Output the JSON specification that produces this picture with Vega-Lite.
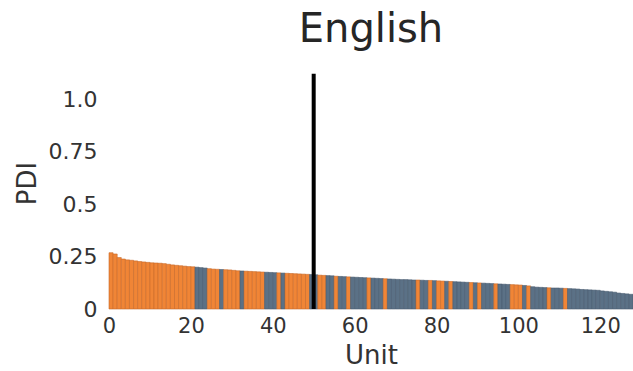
{
  "$schema": "https://vega.github.io/schema/vega-lite/v6.json",
  "autosize": {"type": "none"},
  "padding": {"left": 109, "top": 57, "right": 0, "bottom": 62},
  "width": 524,
  "height": 252,
  "background": "white",
  "title": {"text": "English", "fontSize": 40, "font": "DejaVu Sans", "fontWeight": "normal", "color": "#262626", "anchor": "middle", "offset": 7},
  "config": {"view": {"stroke": null}, "font": "DejaVu Sans"},
  "datasets": {
    "units": [
      {"unit":0,"pdi":0.268,"group":"O"},{"unit":1,"pdi":0.262,"group":"O"},{"unit":2,"pdi":0.245,"group":"O"},{"unit":3,"pdi":0.238,"group":"O"},
      {"unit":4,"pdi":0.234,"group":"O"},{"unit":5,"pdi":0.232,"group":"O"},{"unit":6,"pdi":0.229,"group":"O"},{"unit":7,"pdi":0.226,"group":"O"},
      {"unit":8,"pdi":0.224,"group":"O"},{"unit":9,"pdi":0.222,"group":"O"},{"unit":10,"pdi":0.220,"group":"O"},{"unit":11,"pdi":0.219,"group":"O"},
      {"unit":12,"pdi":0.218,"group":"O"},{"unit":13,"pdi":0.216,"group":"O"},{"unit":14,"pdi":0.213,"group":"O"},{"unit":15,"pdi":0.210,"group":"O"},
      {"unit":16,"pdi":0.208,"group":"O"},{"unit":17,"pdi":0.206,"group":"O"},{"unit":18,"pdi":0.204,"group":"O"},{"unit":19,"pdi":0.202,"group":"O"},
      {"unit":20,"pdi":0.201,"group":"O"},{"unit":21,"pdi":0.199,"group":"B"},{"unit":22,"pdi":0.197,"group":"B"},{"unit":23,"pdi":0.195,"group":"B"},
      {"unit":24,"pdi":0.192,"group":"O"},{"unit":25,"pdi":0.190,"group":"O"},{"unit":26,"pdi":0.189,"group":"O"},{"unit":27,"pdi":0.188,"group":"B"},
      {"unit":28,"pdi":0.187,"group":"O"},{"unit":29,"pdi":0.186,"group":"O"},{"unit":30,"pdi":0.184,"group":"O"},{"unit":31,"pdi":0.182,"group":"O"},
      {"unit":32,"pdi":0.181,"group":"B"},{"unit":33,"pdi":0.180,"group":"O"},{"unit":34,"pdi":0.179,"group":"O"},{"unit":35,"pdi":0.178,"group":"O"},
      {"unit":36,"pdi":0.177,"group":"O"},{"unit":37,"pdi":0.176,"group":"O"},{"unit":38,"pdi":0.175,"group":"B"},{"unit":39,"pdi":0.174,"group":"B"},
      {"unit":40,"pdi":0.173,"group":"B"},{"unit":41,"pdi":0.172,"group":"O"},{"unit":42,"pdi":0.171,"group":"B"},{"unit":43,"pdi":0.170,"group":"O"},
      {"unit":44,"pdi":0.169,"group":"O"},{"unit":45,"pdi":0.168,"group":"O"},{"unit":46,"pdi":0.167,"group":"O"},{"unit":47,"pdi":0.166,"group":"O"},
      {"unit":48,"pdi":0.165,"group":"O"},{"unit":49,"pdi":0.164,"group":"B"},{"unit":50,"pdi":0.163,"group":"B"},{"unit":51,"pdi":0.161,"group":"O"},
      {"unit":52,"pdi":0.160,"group":"O"},{"unit":53,"pdi":0.159,"group":"B"},{"unit":54,"pdi":0.158,"group":"B"},{"unit":55,"pdi":0.156,"group":"O"},
      {"unit":56,"pdi":0.155,"group":"B"},{"unit":57,"pdi":0.154,"group":"B"},{"unit":58,"pdi":0.153,"group":"O"},{"unit":59,"pdi":0.152,"group":"B"},
      {"unit":60,"pdi":0.151,"group":"B"},{"unit":61,"pdi":0.150,"group":"B"},{"unit":62,"pdi":0.149,"group":"B"},{"unit":63,"pdi":0.148,"group":"O"},
      {"unit":64,"pdi":0.147,"group":"B"},{"unit":65,"pdi":0.146,"group":"B"},{"unit":66,"pdi":0.145,"group":"B"},{"unit":67,"pdi":0.144,"group":"O"},
      {"unit":68,"pdi":0.143,"group":"B"},{"unit":69,"pdi":0.142,"group":"B"},{"unit":70,"pdi":0.141,"group":"B"},{"unit":71,"pdi":0.140,"group":"B"},
      {"unit":72,"pdi":0.140,"group":"B"},{"unit":73,"pdi":0.139,"group":"B"},{"unit":74,"pdi":0.138,"group":"B"},{"unit":75,"pdi":0.138,"group":"O"},
      {"unit":76,"pdi":0.137,"group":"B"},{"unit":77,"pdi":0.136,"group":"B"},{"unit":78,"pdi":0.136,"group":"O"},{"unit":79,"pdi":0.135,"group":"B"},
      {"unit":80,"pdi":0.134,"group":"O"},{"unit":81,"pdi":0.133,"group":"O"},{"unit":82,"pdi":0.132,"group":"B"},{"unit":83,"pdi":0.131,"group":"O"},
      {"unit":84,"pdi":0.130,"group":"B"},{"unit":85,"pdi":0.129,"group":"B"},{"unit":86,"pdi":0.128,"group":"B"},{"unit":87,"pdi":0.127,"group":"B"},
      {"unit":88,"pdi":0.126,"group":"O"},{"unit":89,"pdi":0.125,"group":"B"},{"unit":90,"pdi":0.124,"group":"O"},{"unit":91,"pdi":0.123,"group":"B"},
      {"unit":92,"pdi":0.122,"group":"B"},{"unit":93,"pdi":0.121,"group":"B"},{"unit":94,"pdi":0.120,"group":"O"},{"unit":95,"pdi":0.119,"group":"B"},
      {"unit":96,"pdi":0.118,"group":"B"},{"unit":97,"pdi":0.117,"group":"B"},{"unit":98,"pdi":0.116,"group":"O"},{"unit":99,"pdi":0.115,"group":"O"},
      {"unit":100,"pdi":0.114,"group":"O"},{"unit":101,"pdi":0.112,"group":"B"},{"unit":102,"pdi":0.110,"group":"O"},{"unit":103,"pdi":0.106,"group":"B"},
      {"unit":104,"pdi":0.104,"group":"B"},{"unit":105,"pdi":0.103,"group":"B"},{"unit":106,"pdi":0.102,"group":"B"},{"unit":107,"pdi":0.101,"group":"O"},
      {"unit":108,"pdi":0.100,"group":"B"},{"unit":109,"pdi":0.100,"group":"B"},{"unit":110,"pdi":0.099,"group":"B"},{"unit":111,"pdi":0.098,"group":"O"},
      {"unit":112,"pdi":0.097,"group":"B"},{"unit":113,"pdi":0.096,"group":"B"},{"unit":114,"pdi":0.095,"group":"B"},{"unit":115,"pdi":0.093,"group":"B"},
      {"unit":116,"pdi":0.092,"group":"B"},{"unit":117,"pdi":0.091,"group":"B"},{"unit":118,"pdi":0.090,"group":"B"},{"unit":119,"pdi":0.089,"group":"B"},
      {"unit":120,"pdi":0.086,"group":"B"},{"unit":121,"pdi":0.084,"group":"B"},{"unit":122,"pdi":0.082,"group":"B"},{"unit":123,"pdi":0.080,"group":"B"},
      {"unit":124,"pdi":0.076,"group":"B"},{"unit":125,"pdi":0.074,"group":"B"},{"unit":126,"pdi":0.072,"group":"B"},{"unit":127,"pdi":0.070,"group":"B"}
    ],
    "marker": [{"unit": 50, "bottom": 0, "top": 1.12}]
  },
  "layer": [
    {
      "data": {"name": "units"},
      "mark": {"type": "bar", "strokeWidth": 0.6, "width": 4.09, "xOffset": 2.05},
      "encoding": {
        "x": {"field": "unit", "type": "quantitative",
              "scale": {"domain": [0, 128], "nice": false, "zero": false, "padding": 0},
              "axis": {"title": "Unit", "values": [0, 20, 40, 60, 80, 100, 120], "format": "d", "labelFontSize": 21, "labelColor": "#333333", "titleFontSize": 26, "titleFontWeight": "normal", "titleColor": "#333333", "ticks": false, "domain": false, "grid": false, "labelPadding": 6, "titlePadding": 6, "labelFlush": false, "labelOverlap": false}},
        "y": {"field": "pdi", "type": "quantitative", "scale": {"domain": [0, 1.2], "nice": false},
              "axis": {"title": "PDI", "values": [0, 0.25, 0.5, 0.75, 1.0], "labelExpr": "datum.value == 1 ? '1.0' : format(datum.value, '~g')", "labelFontSize": 22, "labelColor": "#333333", "titleFontSize": 26, "titleFontWeight": "normal", "titleColor": "#333333", "ticks": false, "domain": false, "grid": false, "labelPadding": 12, "titlePadding": 8}},
        "fill": {"field": "group", "type": "nominal", "scale": {"domain": ["O", "B"], "range": ["#F08536", "#5B7186"]}, "legend": null},
        "stroke": {"field": "group", "type": "nominal", "scale": {"domain": ["O", "B"], "range": ["#C8692A", "#4A5D70"]}, "legend": null}
      }
    },
    {
      "data": {"name": "marker"},
      "mark": {"type": "rule", "strokeWidth": 4, "color": "black"},
      "encoding": {
        "x": {"field": "unit", "type": "quantitative"},
        "y": {"field": "bottom", "type": "quantitative"},
        "y2": {"field": "top"}
      }
    }
  ]
}
